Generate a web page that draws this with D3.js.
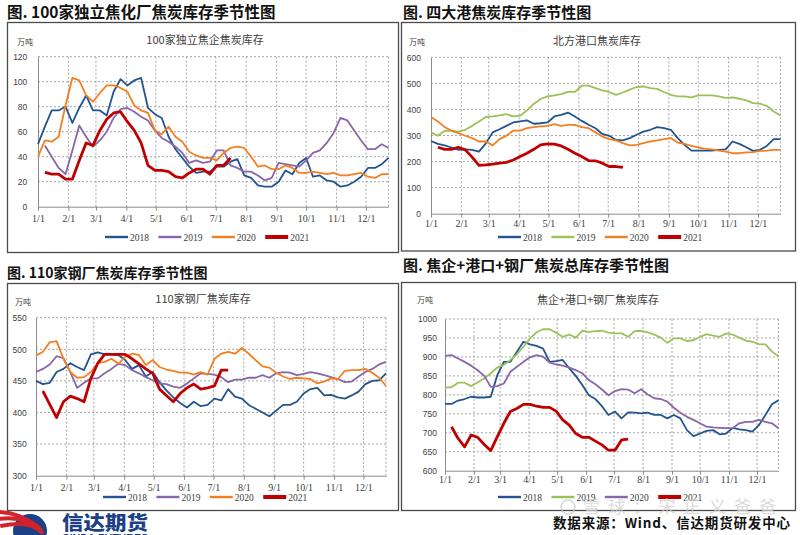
<!DOCTYPE html>
<html>
<head>
<meta charset="utf-8">
<script src="https://cdn.jsdelivr.net/npm/d3@7"></script>
<style>
body { margin: 0; background: #fff; }
svg { display: block; }
</style>
</head>
<body>
<svg id="chart" width="800" height="535"></svg>
<script>
// x axis labels and series names
var monthLabels = ["1/1","2/1","3/1","4/1","5/1","6/1","7/1","8/1","9/1","10/1","11/1","12/1"];
var yearNames = ["2018","2019","2020","2021"];

// 100家独立焦企焦炭库存 (万吨), weekly
var plant2018 = [50,64,77,77,80,67,79,89,77,77,73,92,102,97,101,103,79,74,71,56,46,39,32,27,28,28,32,32,36,38,25,23,17,16,16,20,29,26,35,39,24,25,21,20,16,17,20,24,31,31,34,39];
var plant2019 = [49,40,31,26,45,65,56,48,53,60,71,78,79,76,72,69,61,55,52,48,43,35,37,35,36,45,45,33,31,28,28,25,21,23,35,34,33,32,37,43,45,51,59,71,69,61,53,46,46,50,47];
var plant2020 = [40,53,52,56,81,103,101,89,84,91,97,97,95,92,81,77,75,61,58,64,56,52,44,41,39,39,37,43,47,48,47,40,32,33,30,30,33,31,27,27,28,27,26,27,25,25,26,27,24,23,26,26];
var plant2021 = [27.5,26,26,22,22,37,51,49,61,70,75,76,68,61,51,33,29,29,28,24,23,27,30,30,26,33,33,39];
var plantStart = [0,1,0,1];
var plantTicks = [0,20,40,60,80,100,120];

// 北方港口焦炭库存 (万吨)
var port2018 = [279,268,262,254,245,247,245,238,270,312,324,337,350,354,358,345,347,350,373,379,388,373,356,341,328,306,299,283,281,290,303,315,322,332,328,322,290,264,242,242,242,242,245,247,277,268,255,241,245,260,286,286];
var port2019 = [312,299,318,319,315,322,337,354,371,373,377,382,373,376,396,421,440,450,454,459,467,467,491,491,482,473,467,456,465,476,486,488,482,479,467,456,450,450,446,454,454,454,450,444,446,441,435,424,422,414,392,377];
var port2020 = [371,354,332,318,309,299,290,277,277,262,286,299,319,319,328,332,335,337,344,337,341,341,332,328,312,296,286,281,271,262,264,271,277,281,286,290,273,268,260,254,249,247,242,238,232,232,235,236,241,242,245,245];
var port2021 = [255,247,247,255,245,217,185,187,190,194,197,206,219,232,247,264,268,267,260,247,232,219,204,203,194,181,181,178];
var portStart = [0,0,0,1];
var portTicks = [0,100,200,300,400,500,600];

// 110家钢厂焦炭库存 (万吨)
var steel2018 = [450,445,447,464,469,478,472,467,492,495,492,492,491,483,469,475,457,464,448,435,424,415,408,417,410,412,422,419,437,425,422,412,406,400,394,403,412,412,417,430,437,439,427,428,424,422,427,433,445,450,451,462];
var steel2019 = [464,469,476,489,486,464,439,447,454,454,462,469,477,475,467,462,456,451,446,445,441,439,446,454,462,461,460,456,448,452,452,455,455,459,455,462,464,463,459,461,464,462,459,456,453,448,449,457,464,469,476,480];
var steel2020 = [490,496,511,513,485,464,455,456,464,478,480,485,477,488,493,491,475,483,472,468,466,463,463,460,464,460,485,493,496,493,502,493,483,473,471,463,457,453,455,454,453,446,449,454,453,466,467,467,469,463,455,442];
var steel2021 = [434,413,392,417,426,422,417,454,478,492,492,492,492,485,477,469,462,437,427,417,430,439,445,437,439,442,467,467];
var steelStart = [0,0,0,1];
var steelTicks = [300,350,400,450,500,550];

// 焦企+港口+钢厂焦炭库存 (万吨)
var total2018 = [776,776,785,789,795,793,793,795,852,887,887,914,940,933,929,922,887,889,892,870,850,826,799,789,770,747,756,738,754,753,751,753,747,747,738,747,738,707,691,698,705,707,696,698,713,709,707,703,720,747,775,786];
var total2019 = [819,820,832,832,823,833,843,857,872,879,892,907,927,949,965,973,973,964,953,959,951,969,966,968,969,964,962,962,953,968,969,965,959,951,937,949,949,942,944,953,960,956,953,962,959,951,943,940,934,933,914,902];
var total2020 = [903,905,896,887,877,865,850,821,823,830,861,874,887,899,905,901,885,880,877,872,865,857,839,828,814,799,810,815,814,804,815,801,791,789,782,766,753,742,734,725,716,714,713,712,712,725,729,729,734,729,725,712];
var total2021 = [716,685,663,694,688,669,653,690,725,756,764,775,775,770,767,767,757,734,720,698,688,688,678,668,654,654,681,683];
var totalStart = [0,0,0,1];
var totalTicks = [600,650,700,750,800,850,900,950,1000];

var blue = "#22558f", purple = "#8866aa", green = "#9bc15a", orange = "#f47f20", red = "#c00000";

var svg = d3.select("#chart");
var day0 = new Date(2021, 0, 1);
var dayEnd = d3.timeDay.offset(day0, 357);
var monthDates = d3.timeMonth.range(day0, new Date(2021, 11, 2));

var panels = [
  { frame: [7.5, 22.5, 391, 230], heading: "图. 100家独立焦化厂焦炭库存季节性图", hx: 7, hy: 17.5, hs: 15.5,
    title: "100家独立焦企焦炭库存", tx: 205, ty: 44, ux: 17, uy: 45,
    left: 38, right: 388.6, top: 56.7, bottom: 206.7, yPad: 10.7, xPad: 4.2,
    ticks: plantTicks, data: [plant2018, plant2019, plant2020, plant2021], start: plantStart,
    colors: [blue, purple, orange, red], legendX: 105, legendY: 237 },
  { frame: [401.5, 22.5, 394, 228.5], heading: "图. 四大港焦炭库存季节性图", hx: 403, hy: 17.5, hs: 15,
    title: "北方港口焦炭库存", tx: 597, ty: 45, ux: 409, uy: 45,
    left: 431, right: 780.5, top: 57.3, bottom: 213.7, yPad: 10, xPad: 2.7,
    ticks: portTicks, data: [port2018, port2019, port2020, port2021], start: portStart,
    colors: [blue, green, orange, red], legendX: 498, legendY: 237 },
  { frame: [7.5, 283.5, 391, 227], heading: "图. 110家钢厂焦炭库存季节性图", hx: 7, hy: 277.5, hs: 14,
    title: "110家钢厂焦炭库存", tx: 203, ty: 303, ux: 15, uy: 304.5,
    left: 36, right: 386, top: 317.7, bottom: 475.7, yPad: 9.3, xPad: 4.2,
    ticks: steelTicks, data: [steel2018, steel2019, steel2020, steel2021], start: steelStart,
    colors: [blue, purple, orange, red], legendX: 103, legendY: 497 },
  { frame: [401.5, 282.5, 394, 228], heading: "图. 焦企+港口+钢厂焦炭总库存季节性图", hx: 403, hy: 271, hs: 15,
    title: "焦企+港口+钢厂焦炭库存", tx: 598, ty: 304, ux: 417, uy: 303,
    left: 445, right: 778.5, top: 319, bottom: 470.7, yPad: 8, xPad: 1.7,
    ticks: totalTicks, data: [total2018, total2019, total2020, total2021], start: totalStart,
    colors: [blue, green, purple, red], legendX: 498, legendY: 497 }
];

function drawPanel(p) {
  var g = svg.append("g");

  g.append("rect")
    .attr("x", p.frame[0]).attr("y", p.frame[1])
    .attr("width", p.frame[2]).attr("height", p.frame[3])
    .attr("fill", "none").attr("stroke", "#4a4a4a").attr("stroke-width", 1.3);

  g.append("text").attr("x", p.hx).attr("y", p.hy)
    .attr("font-family", "'Noto Sans CJK SC', sans-serif").attr("font-weight", 700)
    .attr("font-size", p.hs).attr("fill", "#111").text(p.heading);

  g.append("text").attr("x", p.tx).attr("y", p.ty).attr("text-anchor", "middle")
    .attr("font-family", "'Noto Sans CJK SC', serif").attr("font-size", 11)
    .attr("fill", "#404040").text(p.title);

  g.append("text").attr("x", p.ux).attr("y", p.uy)
    .attr("font-family", "'Noto Sans CJK SC', sans-serif").attr("font-size", 8)
    .attr("fill", "#404040").text("万吨");

  var x = d3.scaleTime().domain([day0, dayEnd]).range([p.left, p.right]);
  var y = d3.scaleLinear().domain([p.ticks[0], p.ticks[p.ticks.length - 1]]).range([p.bottom, p.top]);

  // dashed grid
  g.selectAll(".hg").data(p.ticks.slice(1)).enter().append("line")
    .attr("x1", p.left).attr("x2", p.right)
    .attr("y1", d => y(d)).attr("y2", d => y(d))
    .attr("stroke", "#a6a6a6").attr("stroke-dasharray", "2,2");
  g.selectAll(".vg").data(monthDates.slice(1).concat([dayEnd])).enter().append("line")
    .attr("x1", d => x(d)).attr("x2", d => x(d))
    .attr("y1", p.top).attr("y2", p.bottom)
    .attr("stroke", "#a6a6a6").attr("stroke-dasharray", "2,2");

  var yAxis = g.append("g").attr("transform", "translate(" + p.left + ",0)")
    .call(d3.axisLeft(y).tickValues(p.ticks).tickFormat(d3.format("d")).tickSize(0).tickPadding(p.yPad));
  yAxis.select(".domain").attr("stroke", "#8c8c8c");
  yAxis.selectAll("text").attr("font-family", "'Liberation Sans', Arial, sans-serif")
    .attr("font-size", 8.5).attr("fill", "#404040");

  var xAxis = g.append("g").attr("transform", "translate(0," + p.bottom + ")")
    .call(d3.axisBottom(x).tickValues(monthDates).tickFormat((d, i) => monthLabels[i])
      .tickSizeInner(4).tickSizeOuter(0).tickPadding(p.xPad));
  xAxis.select(".domain").attr("stroke", "#8c8c8c");
  xAxis.selectAll("line").attr("stroke", "#8c8c8c");
  xAxis.selectAll("text").attr("font-family", "'Liberation Serif', 'Times New Roman', serif")
    .attr("font-size", 10).attr("fill", "#404040");

  p.data.forEach(function(vals, k) {
    var line = d3.line()
      .x((v, i) => x(d3.timeDay.offset(day0, (p.start[k] + i) * 7)))
      .y(v => y(v));
    g.append("path").datum(vals)
      .attr("d", line)
      .attr("fill", "none")
      .attr("stroke", p.colors[k])
      .attr("stroke-width", k === 3 ? 2.8 : 1.8)
      .attr("stroke-linejoin", "round");
  });

  // legend
  yearNames.forEach(function(name, k) {
    var lx = p.legendX + k * 53.4;
    g.append("line").attr("x1", lx).attr("x2", lx + 23)
      .attr("y1", p.legendY).attr("y2", p.legendY)
      .attr("stroke", p.colors[k]).attr("stroke-width", k === 3 ? 4 : 2.4);
    g.append("text").attr("x", lx + 25).attr("y", p.legendY + 3.5)
      .attr("font-family", "'Liberation Serif', 'Times New Roman', serif")
      .attr("font-size", 9.5).attr("fill", "#404040").text(name);
  });
}

panels.forEach(drawPanel);

// footer: company logo
var logo = svg.append("g");
logo.append("circle").attr("cx", 30).attr("cy", 531).attr("r", 17).attr("fill", "#1d3f86");
[0, 7, 14].forEach(function(o) {
  logo.append("path")
    .attr("d", "M" + (-4 + o * 0.3) + "," + (512 + o) + " Q" + (18 + o) + "," + (511 + o * 0.6) + " " + (40 + o * 0.2) + "," + (528 + o * 0.4))
    .attr("fill", "none").attr("stroke", "#d2232a").attr("stroke-width", 4);
});
svg.append("text").attr("x", 62).attr("y", 530)
  .attr("font-family", "'Noto Sans CJK SC', sans-serif").attr("font-weight", 900)
  .attr("font-size", 19).attr("fill", "#1d3f86")
  .attr("textLength", 86).attr("lengthAdjust", "spacingAndGlyphs").text("信达期货");
svg.append("text").attr("x", 62).attr("y", 540)
  .attr("font-family", "'Liberation Sans', sans-serif").attr("font-weight", 700)
  .attr("font-size", 9).attr("fill", "#1d3f86")
  .attr("textLength", 86).attr("lengthAdjust", "spacingAndGlyphs").text("CINDA FUTURES");

// watermark
svg.append("circle").attr("cx", 568).attr("cy", 507).attr("r", 7)
  .attr("fill", "none").attr("stroke", "#c8c8c8").attr("stroke-width", 1.5).attr("opacity", 0.7);
svg.append("text").attr("x", 583).attr("y", 513)
  .attr("font-family", "'Noto Sans CJK SC', sans-serif").attr("font-size", 17)
  .attr("fill", "#cfcfcf").attr("opacity", 0.75)
  .attr("textLength", 193).text("雪球：宋正义爸爸");

// source note
svg.append("text").attr("x", 553).attr("y", 528)
  .attr("font-family", "'Noto Sans CJK SC', sans-serif").attr("font-weight", 700)
  .attr("font-size", 13.5).attr("fill", "#111")
  .attr("textLength", 237).text("数据来源：Wind、信达期货研发中心");
</script>
</body>
</html>
